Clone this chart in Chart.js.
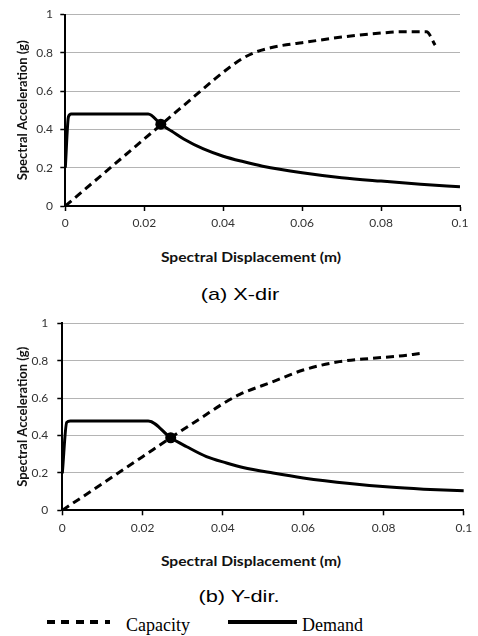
<!DOCTYPE html>
<html>
<head>
<meta charset="utf-8">
<script src="https://cdn.jsdelivr.net/npm/chart.js@4/dist/chart.umd.min.js"></script>
<style>
  html, body { margin: 0; padding: 0; background: #fff; }
  #page { position: relative; width: 478px; height: 636px; overflow: hidden; background: #fff; }
  canvas { position: absolute; left: 0; }
  .xtitle { position: absolute; font: bold 13px Lato, sans-serif; line-height: 13px; color: #111;
            white-space: nowrap; transform: translateX(-50%) scaleX(1.2); }
  .caption { position: absolute; font: 17px "Liberation Sans", Arial, sans-serif; line-height: 17px; color: #000;
             white-space: nowrap; transform: translateX(-50%) scaleX(1.28); }
  .sample { position: absolute; height: 4px; }
  .sample.dash { background: repeating-linear-gradient(to right, #000 0 8px, transparent 8px 14.5px); }
  .sample.solid { background: #000; }
  .leg { position: absolute; font: 18px "Liberation Serif", "Times New Roman", serif; line-height: 18px;
         color: #000; white-space: nowrap; }
</style>
</head>
<body>
<div id="page">
  <canvas id="chartX" width="478" height="240" style="top:0px"></canvas>
  <div class="xtitle" style="left:251px;top:251px">Spectral Displacement (m)</div>
  <div class="caption" style="left:240px;top:286.3px">(a) X-dir</div>

  <canvas id="chartY" width="478" height="240" style="top:300px"></canvas>
  <div class="xtitle" style="left:251px;top:555px">Spectral Displacement (m)</div>
  <div class="caption" style="left:239px;top:588.3px">(b) Y-dir.</div>

  <div class="sample dash" style="left:47px;top:619.7px;width:63px"></div>
  <div class="leg" style="left:126px;top:616.4px">Capacity</div>
  <div class="sample solid" style="left:228px;top:619.7px;width:69px"></div>
  <div class="leg" style="left:302px;top:616.4px">Demand</div>
</div>

<script>
// Axis tick values
const SD_TICKS = [0, 0.02, 0.04, 0.06, 0.08, 0.1];
const SA_TICKS = [0, 0.2, 0.4, 0.6, 0.8, 1];

// X direction: capacity spectrum (Sd in m, Sa in g)
const capXSd = [0, 0.01, 0.02, 0.03, 0.038, 0.042, 0.045, 0.048, 0.052, 0.056, 0.06, 0.07, 0.08, 0.085, 0.0915, 0.0937];
const capXSa = [0, 0.175, 0.35, 0.525, 0.665, 0.73, 0.772, 0.802, 0.826, 0.842, 0.853, 0.882, 0.903, 0.91, 0.91, 0.84];
// X direction: demand spectrum
const demXSd = [0, 0.0008, 0.0015, 0.021, 0.0242, 0.027, 0.03, 0.035, 0.04, 0.045, 0.05, 0.06, 0.07, 0.08, 0.09, 0.1];
const demXSa = [0.2, 0.466, 0.48, 0.48, 0.427, 0.39, 0.35, 0.298, 0.26, 0.232, 0.208, 0.174, 0.148, 0.13, 0.114, 0.1];
// X direction: performance point
const perfXSd = [0.0242];
const perfXSa = [0.427];

// Y direction: capacity spectrum
const capYSd = [0, 0.01, 0.02, 0.027, 0.035, 0.04, 0.0442, 0.0525, 0.06, 0.069, 0.0774, 0.084, 0.089];
const capYSa = [0, 0.143, 0.287, 0.388, 0.5, 0.57, 0.62, 0.688, 0.75, 0.795, 0.813, 0.825, 0.838];
// Y direction: demand spectrum
const demYSd = [0, 0.0011, 0.002, 0.0214, 0.027, 0.031, 0.0359, 0.0409, 0.045, 0.0525, 0.06, 0.0716, 0.0815, 0.09, 0.1];
const demYSa = [0.198, 0.47, 0.478, 0.478, 0.388, 0.34, 0.287, 0.253, 0.229, 0.199, 0.173, 0.143, 0.124, 0.113, 0.104];
// Y direction: performance point
const perfYSd = [0.027];
const perfYSa = [0.388];

const pts = (xs, ys) => xs.map((x, i) => ({ x: x, y: ys[i] }));

function spectrumChart(id, cap, dem, perf, frame) {
  return new Chart(document.getElementById(id), {
    type: 'line',
    data: {
      datasets: [
        {
          label: 'Performance point',
          data: perf,
          showLine: false,
          pointRadius: 5.5,
          pointHoverRadius: 5.5,
          pointBackgroundColor: '#000',
          pointBorderColor: '#000',
          pointBorderWidth: 0,
          order: 0
        },
        {
          label: 'Demand',
          data: dem,
          borderColor: '#000',
          borderWidth: 3,
          pointRadius: 0,
          cubicInterpolationMode: 'monotone',
          order: 1
        },
        {
          label: 'Capacity',
          data: cap,
          borderColor: '#000',
          borderWidth: 3,
          borderDash: [8, 5],
          pointRadius: 0,
          cubicInterpolationMode: 'monotone',
          order: 2
        }
      ]
    },
    options: {
      responsive: false,
      animation: false,
      events: [],
      layout: { padding: { left: 0, top: frame.top, right: frame.right, bottom: 0 } },
      plugins: { legend: { display: false }, tooltip: { enabled: false } },
      scales: {
        x: {
          type: 'linear',
          min: 0, max: 0.1,
          afterBuildTicks: s => { s.ticks = SD_TICKS.map(v => ({ value: v })); },
          afterFit: s => { s.height = frame.xAxisHeight; },
          border: { color: '#000', width: 2 },
          grid: { drawOnChartArea: false, drawTicks: true, tickLength: 5, tickColor: '#000', tickWidth: 1.5 },
          ticks: {
            padding: frame.xTickPad,
            maxRotation: 0,
            color: '#333',
            font: { family: 'Lato', size: 12 },
            callback: v => String(v)
          }
        },
        y: {
          type: 'linear',
          min: 0, max: 1,
          afterBuildTicks: s => { s.ticks = SA_TICKS.map(v => ({ value: v })); },
          afterFit: s => { s.width = frame.left; },
          border: { color: '#000', width: 2 },
          grid: { color: '#b4b4b4', lineWidth: 1, drawTicks: true, tickLength: 5, tickColor: '#000', tickWidth: 1.5 },
          ticks: {
            padding: frame.yTickPad,
            color: '#333',
            font: { family: 'Lato', size: 12 },
            callback: v => String(v)
          },
          title: {
            display: true,
            text: 'Spectral Acceleration (g)',
            color: '#111',
            font: { family: 'Lato', size: 13, weight: 'bold' },
            padding: { top: 15.2, bottom: 0 }
          }
        }
      }
    }
  });
}

spectrumChart('chartX', pts(capXSd, capXSa), pts(demXSd, demXSa), pts(perfXSd, perfXSa),
  { left: 65.3, top: 10.7, right: 18, xAxisHeight: 34, xTickPad: 4.8, yTickPad: 7.3 });
spectrumChart('chartY', pts(capYSd, capYSa), pts(demYSd, demYSa), pts(perfYSd, perfYSa),
  { left: 62.3, top: 23.3, right: 14, xAxisHeight: 29.7, xTickPad: 5.8, yTickPad: 9 });
</script>
</body>
</html>
